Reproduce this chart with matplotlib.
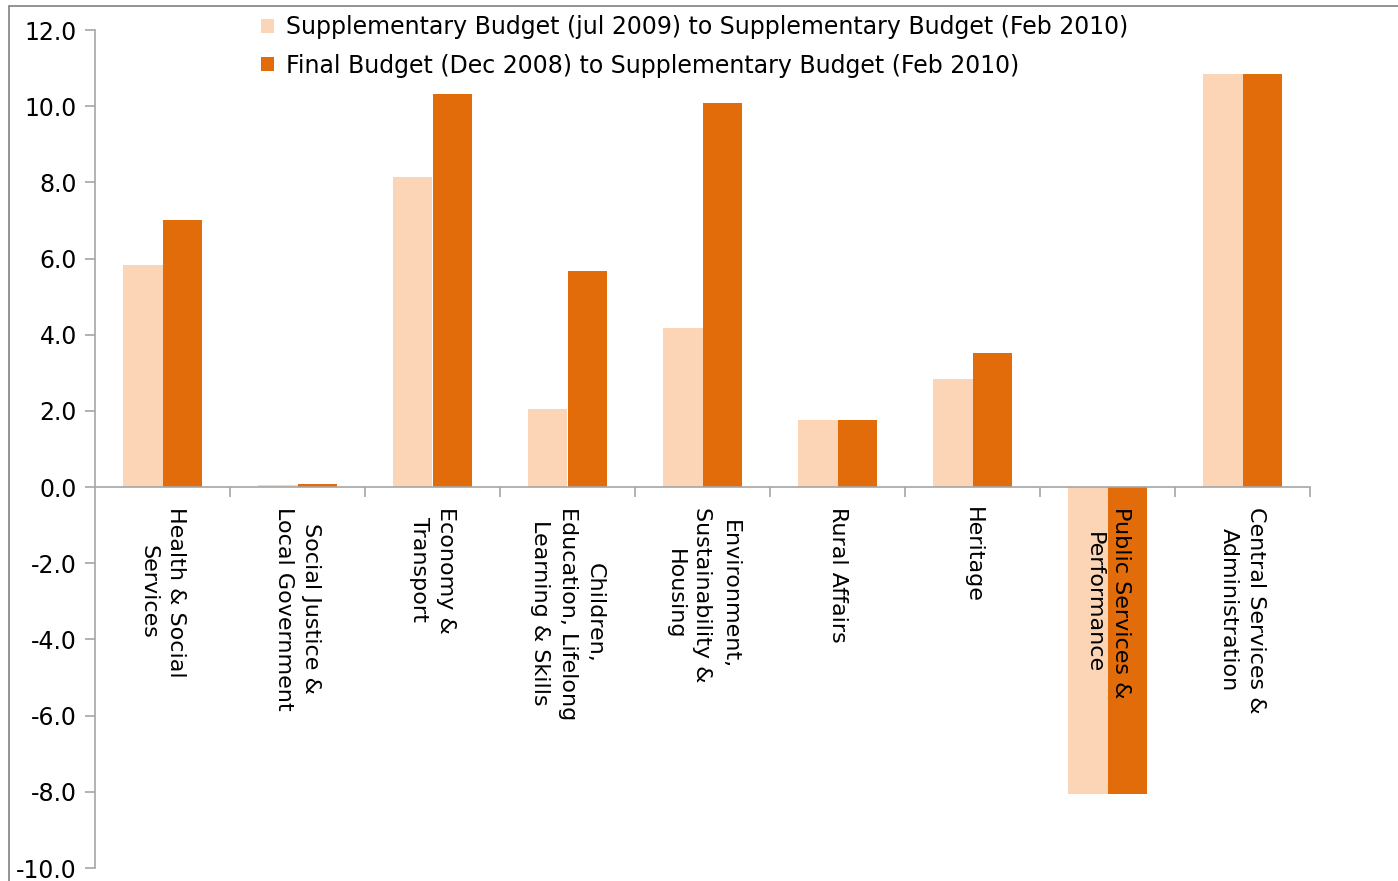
import matplotlib
matplotlib.use("Agg")
import matplotlib.pyplot as plt
import numpy as np
from matplotlib.patches import Rectangle

plt.rcParams['font.family'] = ['DejaVu Sans']
plt.rcParams['axes.unicode_minus'] = False

categories = [
    "Health & Social\nServices",
    "Social Justice &\nLocal Government",
    "Economy &\nTransport",
    "Children,\nEducation, Lifelong\nLearning & Skills",
    "Environment,\nSustainability &\nHousing",
    "Rural Affairs",
    "Heritage",
    "Public Services &\nPerformance",
    "Central Services &\nAdministration",
]
series_names = [
    "Supplementary Budget (jul 2009) to Supplementary Budget (Feb 2010)",
    "Final Budget (Dec 2008) to Supplementary Budget (Feb 2010)",
]
supp_vs_supp = [5.83, 0.05, 8.14, 2.05, 4.18, 1.77, 2.83, -8.06, 10.84]
final_vs_supp = [7.02, 0.07, 10.32, 5.66, 10.08, 1.77, 3.51, -8.06, 10.84]
yticks = [-10, -8, -6, -4, -2, 0, 2, 4, 6, 8, 10, 12]

light = "#FBD5B5"
dark = "#E36C0A"
gray = "#A6A6A6"

fig = plt.figure(figsize=(13.98, 8.81), dpi=100)
# chart frame
fig.patches.append(Rectangle((9/1398, -0.1), 1.2, 1 - 6/881 + 0.1, transform=fig.transFigure,
                             fill=False, edgecolor="#808080", linewidth=1.2))
ax = fig.add_axes([95/1398, 1 - 868/881, (1310 - 95)/1398, (868 - 30)/881])

x = np.arange(len(categories)) + 0.5
w = 0.296
ax.bar(x - w/2, supp_vs_supp, width=w, color=light, label=series_names[0], zorder=1, linewidth=0)
ax.bar(x + w/2, final_vs_supp, width=w, color=dark, label=series_names[1], zorder=1, linewidth=0)

ax.set_xlim(0, len(categories))
ax.set_ylim(-10, 12)
ax.set_yticks(yticks)
ax.set_yticklabels([f"{v:.1f}" for v in yticks], fontsize=17)

ax.spines['top'].set_visible(False)
ax.spines['right'].set_visible(False)
ax.spines['bottom'].set_position(('data', 0))
ax.spines['bottom'].set_color(gray)
ax.spines['left'].set_color(gray)
ax.spines['bottom'].set_linewidth(1.2)
ax.spines['left'].set_linewidth(1.2)

ax.set_xticks(np.arange(1, len(categories) + 1))
ax.set_xticklabels([])
ax.tick_params(axis='x', which='major', direction='out', length=7, color=gray, width=1.2)
ax.set_xticks(x, minor=True)
ax.set_xticklabels(categories, minor=True, rotation=-90, fontsize=16,
                   ha='center', va='top', multialignment='center', linespacing=1.45)
ax.tick_params(axis='x', which='minor', length=0, pad=14)
ax.tick_params(axis='y', direction='out', length=7, color=gray, width=1.2, pad=6)

leg = fig.legend(loc='upper left', bbox_to_anchor=(252/1398, 1 - 6/881), frameon=False,
                 fontsize=17, handlelength=0.55, handleheight=0.55, handletextpad=0.5,
                 labelspacing=0.6, borderaxespad=0)

fig.savefig("out.png", dpi=100)
